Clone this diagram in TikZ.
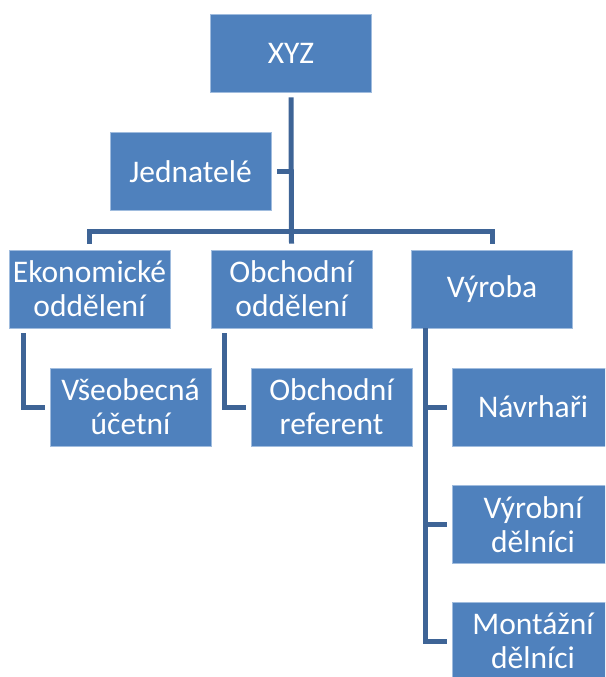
\documentclass[tikz,border=0pt]{standalone}
\usepackage{fontspec}
\setmainfont{Carlito}
\usetikzlibrary{calc}
\definecolor{boxblue}{RGB}{79,129,189}
\definecolor{boxedge}{RGB}{160,188,222}
\definecolor{linkblue}{RGB}{62,100,150}
\tikzset{
  orgbox/.style={rectangle, fill=boxblue, draw=boxedge, line width=0.8pt,
    minimum width=161pt, minimum height=78pt, inner sep=0pt, align=center,
    text=white, font=\fontsize{31.5}{34}\selectfont},
  link/.style={draw=linkblue, line width=5pt, line cap=butt, line join=miter}
}
\begin{document}
\begin{tikzpicture}[x=1pt,y=-1pt]
\useasboundingbox (0,0) rectangle (605,677);
\clip (0,0) rectangle (605,677);
\node[orgbox] (xyz) at (291,53) {XYZ};
\node[orgbox] (jed) at (190.5,171.5) {Jednatelé};
\node[orgbox] (ekon) at (89.5,289) {Ekonomické\\oddělení};
\node[orgbox] (obch) at (291.5,289) {Obchodní\\oddělení};
\node[orgbox] (vyr) at (492,289) {Výroba};
\node[orgbox] (vseob) at (130.5,407) {Všeobecná\\účetní};
\node[orgbox] (oref) at (331.5,407) {Obchodní\\referent};
\node[orgbox] (navr) at (533,407) {Návrhaři};
\node[orgbox] (vyrd) at (533,524.5) {Výrobní\\dělníci};
\node[orgbox] (mont) at (533,641) {Montážní\\dělníci};
\coordinate (bus) at (291,231);
% trunk
\draw[link] ($(xyz.south)+(0,5)$) -- ($(obch.north)+(0,-6)$);
% bus
\draw[link] ($(ekon.north)+(0,-6)$) |- (bus) -| ($(vyr.north)+(0,-6)$);
% Jednatele stub
\draw[link] ($(jed.east)+(6,0)$) -- (jed.east -| xyz.south);
% Ekonomicke
\draw[link] ($(ekon.south west)+(15,5)$) |- ($(vseob.west)+(-5,0)$);
% Obchodni
\draw[link] ($(obch.south west)+(14,5)$) |- ($(oref.west)+(-5,0)$);
% Vyroba
\draw[link] ($(vyr.south west)+(14,5)$) |- ($(mont.west)+(-5,0)$);
\draw[link] ($(vyr.south west)+(14,0)$) |- ($(navr.west)+(-5,0)$);
\draw[link] ($(vyr.south west)+(14,0)$) |- ($(vyrd.west)+(-5,0)$);
\end{tikzpicture}
\end{document}
